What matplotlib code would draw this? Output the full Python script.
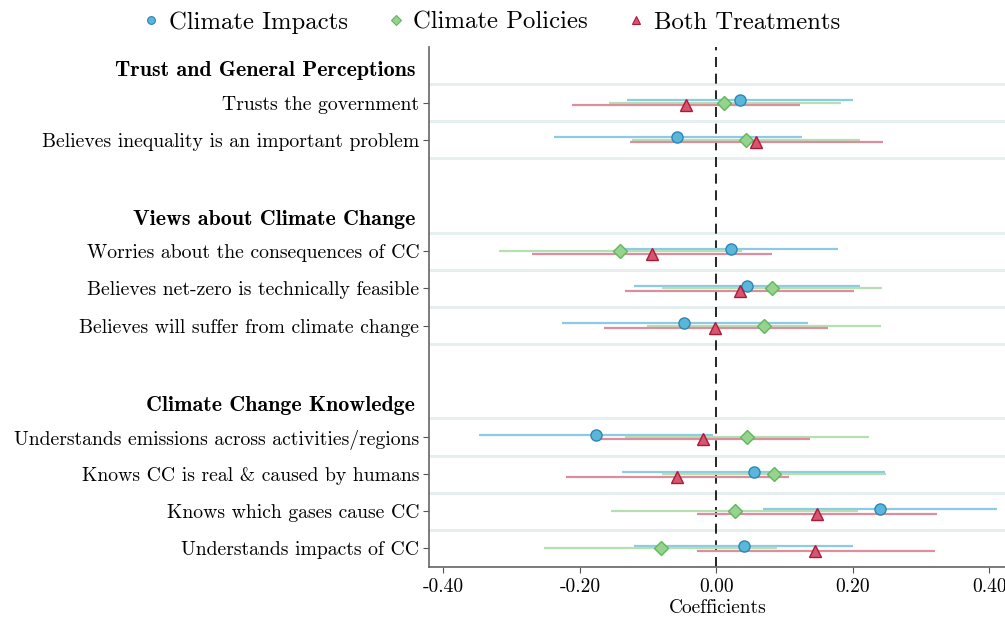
import numpy as np
import matplotlib
matplotlib.use('Agg')
import matplotlib.pyplot as plt
from matplotlib.ticker import FormatStrFormatter
from matplotlib.lines import Line2D

# groups of outcomes, top to bottom
groups = ["Trust and General Perceptions",
          "Views about Climate Change",
          "Climate Change Knowledge"]
outcomes = [
    ["Trusts the government",
     "Believes inequality is an important problem"],
    ["Worries about the consequences of CC",
     "Believes net-zero is technically feasible",
     "Believes will suffer from climate change"],
    ["Understands emissions across activities/regions",
     "Knows CC is real & caused by humans",
     "Knows which gases cause CC",
     "Understands impacts of CC"],
]

# coefficients and 95% CI, same order as outcomes (flattened)
impacts_coef = [0.034, -0.057, 0.022, 0.045, -0.047, -0.177, 0.055, 0.240, 0.040]
impacts_lo   = [-0.131, -0.238, -0.135, -0.120, -0.226, -0.348, -0.138, 0.068, -0.120]
impacts_hi   = [0.200, 0.125, 0.179, 0.210, 0.134, -0.005, 0.247, 0.412, 0.200]

policies_coef = [0.011, 0.043, -0.141, 0.081, 0.070, 0.045, 0.084, 0.027, -0.081]
policies_lo   = [-0.158, -0.124, -0.318, -0.079, -0.101, -0.134, -0.080, -0.154, -0.252]
policies_hi   = [0.182, 0.211, 0.037, 0.243, 0.242, 0.223, 0.249, 0.208, 0.089]

both_coef = [-0.045, 0.058, -0.094, 0.034, -0.002, -0.020, -0.057, 0.147, 0.144]
both_lo   = [-0.211, -0.127, -0.270, -0.134, -0.165, -0.176, -0.221, -0.028, -0.029]
both_hi   = [0.123, 0.244, 0.082, 0.201, 0.163, 0.137, 0.107, 0.323, 0.320]

xticks = [-0.4, -0.2, 0.0, 0.2, 0.4]

# row layout: header, items, one blank row between groups
n_rows = sum(len(o) + 1 for o in outcomes) + len(groups) - 1
pos = n_rows - 1
header_pos = []
item_pos = []
for gi, items in enumerate(outcomes):
    header_pos.append(pos)
    pos -= 1
    for it in items:
        item_pos.append(pos)
        pos -= 1
    pos -= 1
item_pos = np.array(item_pos, dtype=float)
item_labels = [it for items in outcomes for it in items]

plt.rcParams['font.family'] = 'cmr10'
plt.rcParams['axes.unicode_minus'] = False

fig = plt.figure(figsize=(10.05, 6.24), dpi=100)
ax = fig.add_axes([0.427, 0.0913, 0.575, 0.8334])

# light separators around each outcome row
for p in item_pos:
    ax.axhline(p + 0.5, color='#e6eef0', lw=2, zorder=0)
    ax.axhline(p - 0.5, color='#e6eef0', lw=2, zorder=0)

ax.axvline(0, color='black', lw=1.2, ls=(0, (6, 4)), zorder=1)

series = [
    ("Climate Impacts", impacts_coef, impacts_lo, impacts_hi, 'o', 8,
     '#5bb6da', '#2b87b8', '#8ccbe3', -0.065),
    ("Climate Policies", policies_coef, policies_lo, policies_hi, 'D', 7,
     '#95d38f', '#5fb85a', '#b6e0b1', 0.0),
    ("Both Treatments", both_coef, both_lo, both_hi, '^', 9,
     '#d5566f', '#b0183a', '#dc8d9e', 0.065),
]

handles = []
for name, coef, lo, hi, mk, ms, fc, ec, lc, off in series:
    y = item_pos - off
    ax.hlines(y, lo, hi, color=lc, lw=1.6, zorder=2)
    ax.plot(coef, y, ls='none', marker=mk, ms=ms, mfc=fc, mec=ec, mew=1.0,
            zorder=3)
    handles.append(Line2D([], [], ls='none', marker=mk, ms=ms * 0.7,
                          mfc=fc, mec=ec, mew=0.8, label=name))

ax.set_yticks(item_pos)
ax.set_yticklabels(item_labels, fontsize=14.2)
for g, p in zip(groups, header_pos):
    ax.text(-0.024, p - 0.14, g, transform=ax.get_yaxis_transform(),
            ha='right', va='center', fontsize=15.8, family='cmb10')

ax.set_ylim(-0.5, n_rows - 0.5)
ax.set_xlim(-0.421, 0.426)
ax.set_xticks(xticks)
ax.xaxis.set_major_formatter(FormatStrFormatter('%.2f'))
ax.tick_params(axis='x', labelsize=14, length=4, color='#555555', pad=4)
ax.tick_params(axis='y', length=4, color='#555555', pad=3)
ax.set_xlabel("Coefficients", fontsize=14, labelpad=2)

for s in ['top', 'right']:
    ax.spines[s].set_visible(False)
for s in ['left', 'bottom']:
    ax.spines[s].set_color('#666666')
    ax.spines[s].set_linewidth(1.2)

fig.legend(handles=handles, loc='upper center', bbox_to_anchor=(0.487, 1.018),
           ncol=3, frameon=False, fontsize=17.8, handletextpad=0.2,
           columnspacing=1.45, handlelength=1.0)

plt.savefig('out.png', dpi=100)
